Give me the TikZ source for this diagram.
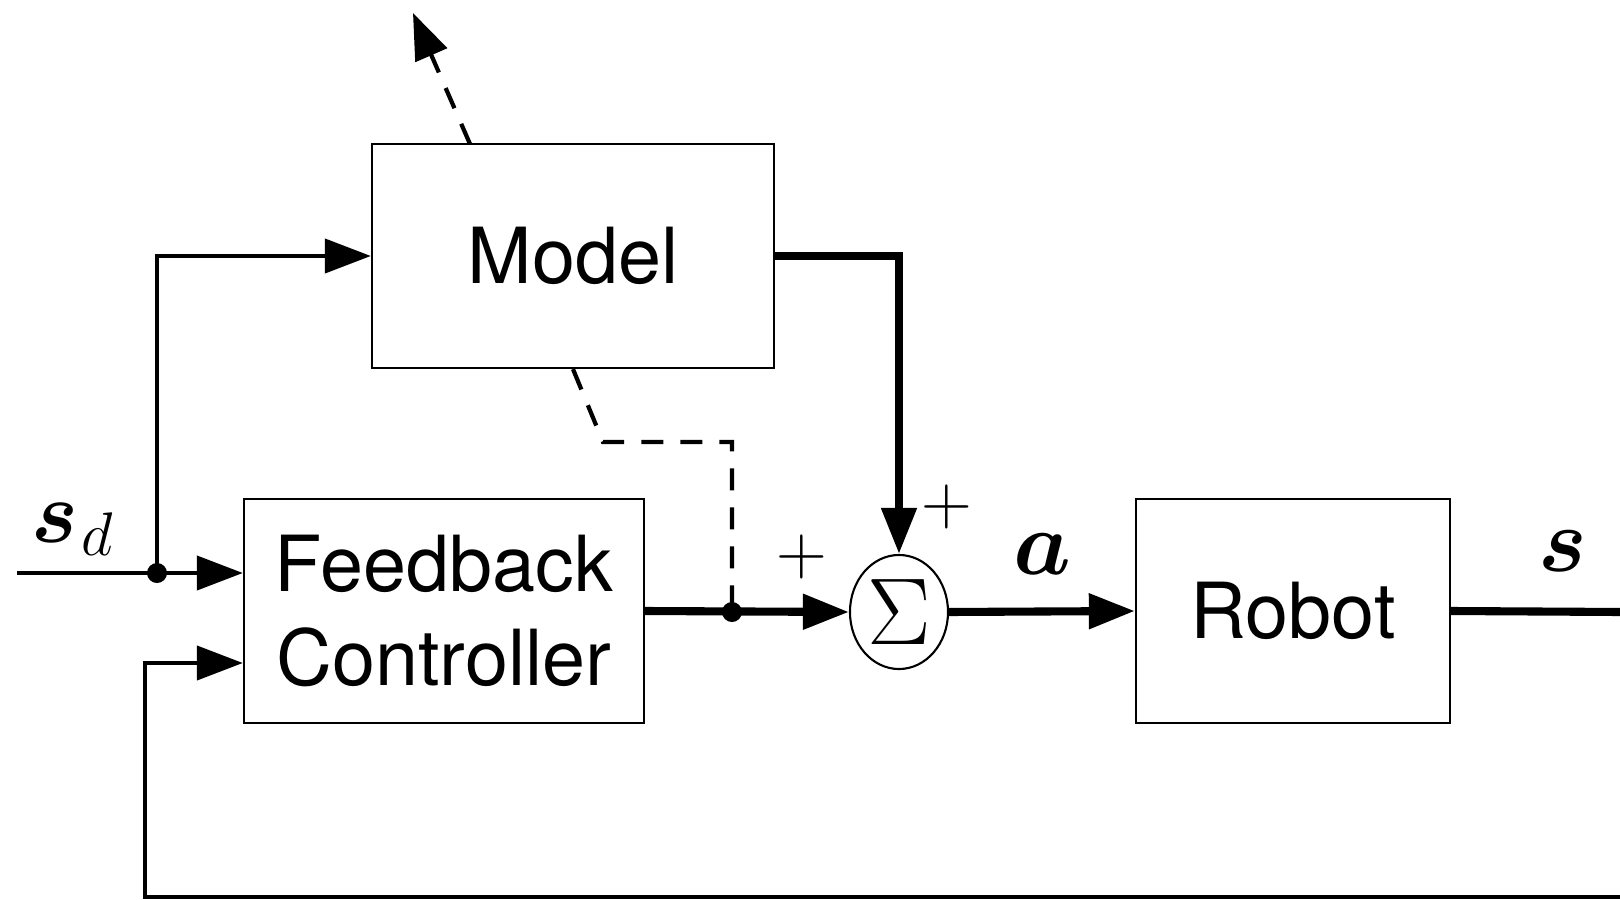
\RequirePackage{fix-cm}
\documentclass[tikz,border=0pt]{standalone}
\usepackage{amsmath,bm}
\usepackage[no-math]{fontspec}
\setmainfont{TeX Gyre Heros}
\usetikzlibrary{arrows.meta,shapes.geometric,calc}
\tikzset{
  blk/.style={draw, line width=0.6pt, inner sep=0pt, font=\fontsize{22}{27}\selectfont, align=center},
  sumnode/.style={draw, ellipse, line width=0.6pt, inner sep=0pt, minimum width=0.98cm, minimum height=1.14cm, font=\fontsize{27}{30}\selectfont},
  thinline/.style={line width=1.2pt},
  thickline/.style={line width=2.3pt},
  endtip/.style={-{Triangle[length=0.46cm,width=0.34cm]}},
  dashline/.style={line width=1.2pt, dash pattern=on 0.22cm off 0.17cm},
  dotnode/.style={circle, fill, inner sep=0pt, minimum size=0.2cm},
  lbl/.style={inner sep=0pt},
}
\begin{document}
\begin{tikzpicture}[x=0.01cm,y=-0.01cm]
\useasboundingbox (0,0) rectangle (1620,900);
\node[blk, minimum width=4.02cm, minimum height=2.24cm] (model) at (573,256) {Model};
\node[blk, minimum width=4.00cm, minimum height=2.24cm] (fc) at (444,611) {Feedback\\Controller};
\node[blk, minimum width=3.14cm, minimum height=2.24cm] (robot) at (1293,611) {Robot};
\node[sumnode] (sum) at (899,612) {$\Sigma$};
\node[dotnode] (j1) at (157,573) {};
\node[dotnode] (j2) at (732,612) {};
\coordinate (sdin) at (17,573);
\coordinate (out) at (1620,612);
\coordinate (fbr) at (1620,897);
\coordinate (fbin) at (145,663);
\coordinate (dk) at (603,442);
\coordinate (dh) at (732,442);
\coordinate (mtop) at (470,144);
\coordinate (dtip) at (413,13);

\draw[thinline,endtip] (sdin) -- (sdin -| fc.west);
\draw[thinline,endtip] (j1.center) |- (model.west);
\draw[thinline,endtip] (fbr) -| (fbin) -- (fbin -| fc.west);
\draw[thickline,endtip] (fc.east) -- (sum.west);
\draw[thickline,endtip] (model.east) -| (sum.north);
\draw[thickline,endtip] (sum.east) -- (robot.west);
\draw[thickline] (robot.east) -- (out);
\draw[dashline] (model.south) -- (dk) -- (dh) -- (j2.center);
\draw[dashline,endtip] (mtop) -- (dtip);

\node[lbl, anchor=base west, font=\fontsize{25}{30}\selectfont] (sd) at (31,542) {$\boldsymbol{s}_{\mkern1mu d}$};
\node[lbl, font=\fontsize{20}{24}\selectfont] (p1) at (947,507) {$+$};
\node[lbl, font=\fontsize{20}{24}\selectfont] (p2) at (802,557) {$+$};
\node[lbl, anchor=base, font=\fontsize{26}{30}\selectfont] (la) at (1042,574) {$\boldsymbol{a}$};
\node[lbl, anchor=base, font=\fontsize{26}{30}\selectfont] (ls) at (1563,571) {$\boldsymbol{s}$};
\end{tikzpicture}
\end{document}
